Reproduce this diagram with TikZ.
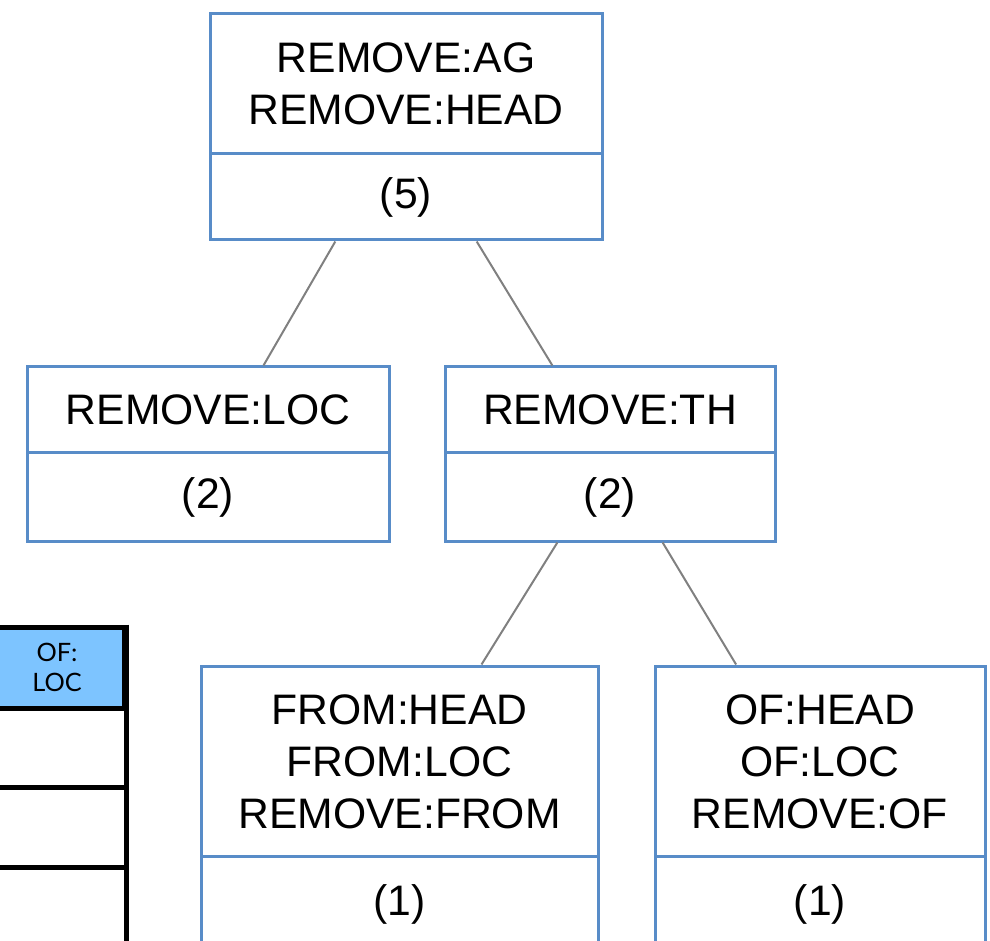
\documentclass[tikz,border=0pt]{standalone}
\usepackage{fontspec}
\setmainfont{Liberation Sans}
\newfontfamily\cellfont{Lato}
\usetikzlibrary{calc}
\definecolor{boxblue}{RGB}{88,140,200}
\definecolor{linkgray}{RGB}{128,128,128}
\definecolor{headfill}{RGB}{125,196,255}
\tikzset{
  cell/.style={draw=boxblue, line width=2.25pt, fill=white, inner sep=0pt,
    align=center, font=\fontsize{32}{39}\selectfont},
  link/.style={draw=linkgray, line width=1.5pt},
  grid/.style={draw=black, line width=3.75pt},
}
\begin{document}
\begin{tikzpicture}[x=0.75pt, y=-0.75pt]
\useasboundingbox (0,0) rectangle (990,941);
\clip (0,0) rectangle (990,941);

% table fragment on the left
\node[grid, fill=headfill, minimum width=100.5pt, minimum height=60.75pt, inner sep=0pt,
  align=center, font=\cellfont\fontsize{19}{22.5}\selectfont] (ofloc) at (57,667.5) {OF:\\LOC};
\draw[grid] (-10,708) -- (124,708);
\draw[grid] (-10,787) -- (124,787);
\draw[grid] (-10,867) -- (124,867);
\draw[grid] (ofloc.north east) -- (ofloc.east |- 0,960);

% root
\node[cell, minimum width=294pt, minimum height=105pt] (ag) at (406,84) {REMOVE:AG\\REMOVE:HEAD};
\node[cell, minimum width=294pt, minimum height=64.5pt] (agc) at (406,197) {(5)};

% second level
\node[cell, minimum width=271.5pt, minimum height=64.5pt] (loc) at (208,410) {REMOVE:LOC};
\node[cell, minimum width=271.5pt, minimum height=66pt] (locc) at (208,497) {(2)};
\node[cell, minimum width=247.5pt, minimum height=64.5pt] (th) at (610,410) {REMOVE:TH};
\node[cell, minimum width=247.5pt, minimum height=66pt] (thc) at (610,497) {(2)};

% third level
\node[cell, minimum width=297.75pt, minimum height=143.25pt] (from) at (399.5,761.5) {FROM:HEAD\\FROM:LOC\\REMOVE:FROM};
\node[cell, minimum width=297.75pt, minimum height=71.25pt] (fromc) at (399.5,904) {(1)};
\node[cell, minimum width=247.5pt, minimum height=143.25pt] (of) at (820,761.5) {OF:HEAD\\OF:LOC\\REMOVE:OF};
\node[cell, minimum width=247.5pt, minimum height=71.25pt] (ofc) at (820,904) {(1)};

% tree edges
\draw[link] ($(agc.south west)!0.321!(agc.south east)$) -- ($(loc.north west)!0.652!(loc.north east)$);
\draw[link] ($(agc.south west)!0.679!(agc.south east)$) -- ($(th.north west)!0.327!(th.north east)$);
\draw[link] ($(thc.south west)!0.342!(thc.south east)$) -- ($(from.north west)!0.705!(from.north east)$);
\draw[link] ($(thc.south west)!0.658!(thc.south east)$) -- ($(of.north west)!0.248!(of.north east)$);
\end{tikzpicture}
\end{document}
